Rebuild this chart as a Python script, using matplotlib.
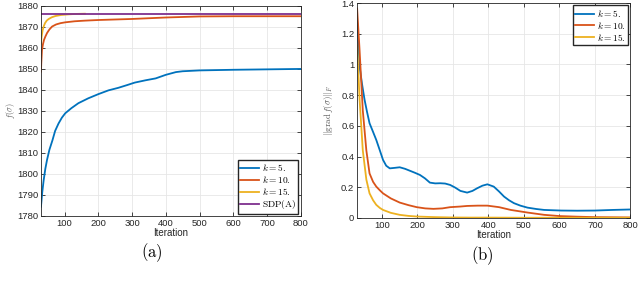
import numpy as np
import matplotlib.pyplot as plt

plt.rcParams['font.family'] = ['Liberation Sans', 'DejaVu Sans']
plt.rcParams['mathtext.fontset'] = 'cm'

# (a) objective value f(sigma)
it_a5 = [30, 34, 38, 43, 48, 55, 64, 72, 82, 92, 102, 120, 141, 170, 200, 230, 259, 285, 308, 340, 370, 400, 430, 450, 500, 600, 700, 800]
f_k5 = [1784.4, 1791.5, 1797, 1802.5, 1806.7, 1811.5, 1816, 1820.5, 1824, 1826.8, 1828.9, 1831.3, 1833.7, 1836, 1838, 1839.8, 1841, 1842.3, 1843.5, 1844.6, 1845.5, 1847.2, 1848.5, 1848.9, 1849.3, 1849.6, 1849.8, 1850]
it_a10 = [30, 31, 33, 36, 39, 43, 48, 55, 63, 75, 88, 102, 130, 160, 200, 300, 400, 500, 600, 800]
f_k10 = [1848.7, 1853, 1859, 1861.8, 1863.8, 1865.4, 1867.1, 1868.8, 1870.2, 1871.2, 1871.8, 1872.2, 1872.7, 1873, 1873.3, 1873.8, 1874.5, 1875, 1875.1, 1875.1]
it_a15 = [30, 32, 35, 38, 42, 47, 53, 62, 73, 90, 112, 135, 160]
f_k15 = [1862, 1865.5, 1868.5, 1870.2, 1871.8, 1873, 1873.8, 1874.6, 1875.2, 1875.7, 1876, 1876.2, 1876.3]
it_sdp = [30, 800]
f_sdp = [1876.3, 1876.3]

# (b) gradient norm
it_b5 = [30, 37, 44, 51, 58, 65, 75, 84, 94, 103, 112, 122, 135, 150, 165, 178, 192, 207, 221, 235, 250, 264, 278, 292,
         306, 321, 340, 355, 368, 383, 397, 415, 430, 444, 458, 472, 490, 510, 535, 557, 580, 605, 650, 700, 750, 800]
g_k5 = [1.29, 0.985, 0.87, 0.77, 0.69, 0.617, 0.56, 0.508, 0.44, 0.378, 0.34, 0.323, 0.326, 0.33, 0.32, 0.308, 0.295, 0.28, 0.258, 0.23, 0.225, 0.226, 0.224, 0.215,
        0.198, 0.176, 0.165, 0.176, 0.193, 0.21, 0.219, 0.204, 0.172, 0.139, 0.115, 0.096, 0.08, 0.067, 0.058, 0.052, 0.05, 0.048, 0.047, 0.048, 0.052, 0.055]
it_b10 = [30, 37, 46, 56, 65, 75, 84, 94, 103, 125, 150, 175, 198, 222, 245, 270, 292, 320, 340, 370, 397, 430, 463, 510, 557, 600, 650, 700, 800]
g_k10 = [1.365, 1.09, 0.70, 0.44, 0.29, 0.235, 0.204, 0.18, 0.16, 0.127, 0.10, 0.083, 0.07, 0.062, 0.059, 0.062, 0.07, 0.074, 0.078, 0.08, 0.08, 0.07, 0.052, 0.035, 0.02, 0.012, 0.008, 0.005, 0.003]
it_b15 = [30, 37, 46, 56, 65, 75, 84, 94, 103, 125, 150, 175, 198, 250, 292, 350, 400, 500, 600, 800]
g_k15 = [1.126, 0.77, 0.44, 0.25, 0.16, 0.115, 0.085, 0.065, 0.052, 0.033, 0.02, 0.013, 0.009, 0.005, 0.003, 0.002, 0.002, 0.001, 0.001, 0.001]

c1, c2, c3, c4 = '#0072BD', '#D95319', '#EDB120', '#7E2F8E'

fig = plt.figure(figsize=(6.4, 2.83), dpi=100)
ax1 = fig.add_axes([0.064, 0.237, 0.406, 0.742])
ax2 = fig.add_axes([0.558, 0.23, 0.427, 0.759])

ax1.plot(it_a5, f_k5, color=c1, lw=1.3, label=r'$k=5.$')
ax1.plot(it_a10, f_k10, color=c2, lw=1.3, label=r'$k=10.$')
ax1.plot(it_a15, f_k15, color=c3, lw=1.3, label=r'$k=15.$')
ax1.plot(it_sdp, f_sdp, color=c4, lw=1.3, label=r'$\mathrm{SDP(A)}$')
ax1.set_xlim(30, 800)
ax1.set_ylim(1780, 1880)
ax1.set_yticks(np.arange(1780, 1881, 10))
ax1.set_ylabel(r'$f(\sigma)$', fontsize=6, color='#555555')
ax1.yaxis.set_label_coords(-0.092, 0.5)

ax2.plot(it_b5, g_k5, color=c1, lw=1.3, label=r'$k=5.$')
ax2.plot(it_b10, g_k10, color=c2, lw=1.3, label=r'$k=10.$')
ax2.plot(it_b15, g_k15, color=c3, lw=1.3, label=r'$k=15.$')
ax2.set_xlim(30, 800)
ax2.set_ylim(0, 1.4)
ax2.set_yticks([0, 0.2, 0.4, 0.6, 0.8, 1, 1.2, 1.4])
ax2.set_yticklabels(['0', '0.2', '0.4', '0.6', '0.8', '1', '1.2', '1.4'])
ax2.set_ylabel(r'$\|\mathrm{grad}\,f(\sigma)\|_F$', fontsize=6.5, color='#555555')
ax2.yaxis.set_label_coords(-0.08, 0.5)

for ax in (ax1, ax2):
    ax.set_xticks(range(100, 801, 100))
    ax.grid(True, color='#e6e6e6', lw=0.6)
    ax.set_axisbelow(True)
    ax.tick_params(direction='in', top=True, right=True, labelsize=6.8, length=3, width=0.6, pad=2, colors='#262626')
    for s in ax.spines.values():
        s.set_linewidth(0.6)
        s.set_color('#262626')
    ax.set_xlabel('Iteration', fontsize=7, labelpad=0, color='#262626')

leg_kw = dict(fontsize=6.8, frameon=True, fancybox=False, edgecolor='#262626', framealpha=1,
              handlelength=2.0, handletextpad=0.3, borderpad=0.25, labelspacing=0.1, borderaxespad=0.25)
ax1.legend(loc='lower right', **leg_kw)
ax2.legend(loc='upper right', **leg_kw)

fig.text(0.238, 0.106, r'$\mathrm{(a)}$', fontsize=12, ha='center', va='center')
fig.text(0.753, 0.095, r'$\mathrm{(b)}$', fontsize=12, ha='center', va='center')

fig.savefig('out.png', dpi=100)
